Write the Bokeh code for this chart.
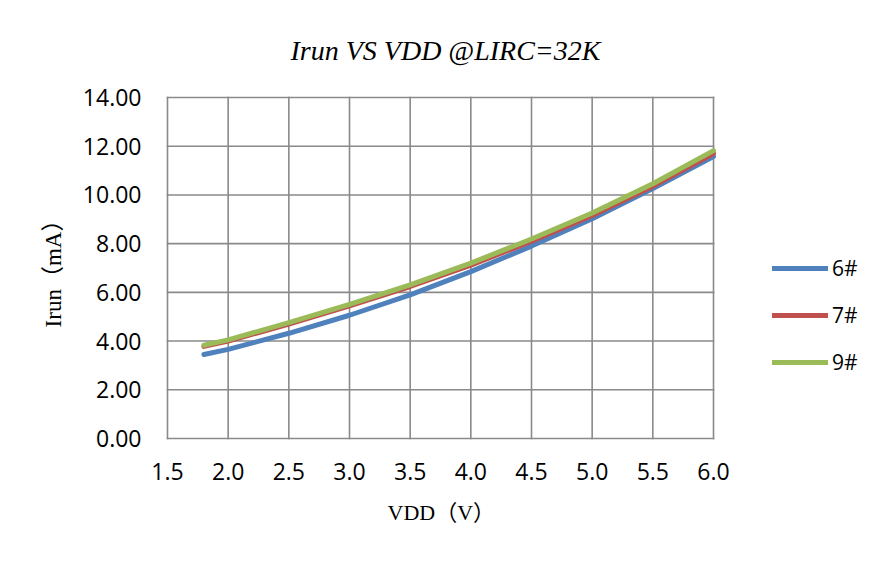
from bokeh.plotting import figure
from bokeh.models import FixedTicker, NumeralTickFormatter, Legend, LegendItem, Range1d, Title
from bokeh.embed import file_html
from bokeh.resources import INLINE

# ---- data ----
vdd = [1.8, 2.0, 2.5, 3.0, 3.5, 4.0, 4.5, 5.0, 5.5, 6.0]
irun_6 = [3.45, 3.66, 4.32, 5.06, 5.90, 6.85, 7.90, 9.02, 10.26, 11.58]
irun_7 = [3.78, 4.00, 4.70, 5.45, 6.24, 7.12, 8.10, 9.16, 10.36, 11.70]
irun_9 = [3.83, 4.05, 4.76, 5.51, 6.31, 7.20, 8.19, 9.26, 10.46, 11.82]
series_names = ["6#", "7#", "9#"]
series_colors = ["#4F81BD", "#C0504D", "#9BBB59"]
x_ticks = [1.5, 2.0, 2.5, 3.0, 3.5, 4.0, 4.5, 5.0, 5.5, 6.0]
y_ticks = [0, 2, 4, 6, 8, 10, 12, 14]
title_text = "Irun VS VDD @LIRC=32K"
x_label = "VDD（V）"
y_label = "Irun（mA）"

# ---- layout (pixels) ----
W, H = 870, 556
plot_w, plot_h = 546, 341      # gridded area size
pad_px = 2                     # keep edge grid lines fully visible
left, right = 165, 5
top = 95
frame_h = plot_h + 2 * pad_px
bottom = H - top - frame_h
frame_w = W - left - right
px_per_x = plot_w / (x_ticks[-1] - x_ticks[0])
px_per_y = plot_h / (y_ticks[-1] - y_ticks[0])
x_start = x_ticks[0] - pad_px / px_per_x
x_end = x_start + frame_w / px_per_x       # extra room on the right for the legend
y_start = y_ticks[0] - pad_px / px_per_y
y_end = y_ticks[-1] + pad_px / px_per_y

p = figure(width=W, height=H, output_backend="svg", toolbar_location=None,
           x_range=Range1d(x_start, x_end), y_range=Range1d(y_start, y_end),
           min_border_left=left, min_border_right=right, min_border_top=top, min_border_bottom=bottom,
           title=title_text)

p.background_fill_color = "white"
p.border_fill_color = "white"
p.outline_line_color = None

p.title.align = "left"
p.title.offset = 125
p.title.vertical_align = "top"
p.title.text_font = "Liberation Serif"
p.title.text_font_style = "italic"
p.title.text_font_size = "28px"
p.title.text_color = "#000000"
p.title.standoff = 56

p.xaxis.ticker = FixedTicker(ticks=x_ticks)
p.yaxis.ticker = FixedTicker(ticks=y_ticks)
p.xaxis.formatter = NumeralTickFormatter(format="0.0")
p.yaxis.formatter = NumeralTickFormatter(format="0.00")

for ax in (p.xaxis, p.yaxis):
    ax.axis_line_color = None
    ax.major_tick_line_color = None
    ax.minor_tick_line_color = None
    ax.major_tick_out = 0
    ax.major_label_text_font = "Open Sans"
    ax.major_label_text_font_size = "23px"
    ax.major_label_text_color = "#000000"
    ax.axis_label_text_font = "'Liberation Serif', 'Noto Sans CJK SC'"
    ax.axis_label_text_font_size = "23px"
    ax.axis_label_text_font_style = "normal"
    ax.axis_label_text_color = "#000000"

p.xaxis.major_label_standoff = 22
p.yaxis.major_label_standoff = 24
p.yaxis.axis_label = y_label
p.yaxis.axis_label_standoff = 14

# x-axis title, aligned under the gridded area (frame is wider to hold the legend)
x_title = Title(text=x_label, align="left", offset=222, standoff=30, vertical_align="bottom",
                text_font="'Liberation Serif', 'Noto Sans CJK SC'", text_font_size="22px",
                text_font_style="normal", text_color="#000000")
p.add_layout(x_title, "below")

# grid (also forms the plot-area border)
p.xgrid.visible = False
p.ygrid.visible = False
grid_color = "#8a8a8a"
p.segment(x0=[x_ticks[0]] * len(y_ticks), x1=[x_ticks[-1]] * len(y_ticks), y0=y_ticks, y1=y_ticks,
          line_color=grid_color, line_width=1.6, line_cap="square")
p.segment(x0=x_ticks, x1=x_ticks, y0=[y_ticks[0]] * len(x_ticks), y1=[y_ticks[-1]] * len(x_ticks),
          line_color=grid_color, line_width=1.6, line_cap="square")

renderers = []
for ys, c in zip([irun_6, irun_7, irun_9], series_colors):
    r = p.line(vdd, ys, line_color=c, line_width=5, line_cap="round", line_join="round")
    renderers.append(r)

legend = Legend(items=[LegendItem(label=n, renderers=[r]) for n, r in zip(series_names, renderers)],
                location=(607, 64), orientation="vertical",
                glyph_width=56, glyph_height=20, label_height=20, label_standoff=4,
                spacing=19, padding=0, margin=0,
                border_line_color=None, background_fill_alpha=0,
                label_text_font="Open Sans", label_text_font_size="21px", label_text_color="#000000")
p.add_layout(legend)

open("out.html", "w").write(file_html(p, INLINE))
